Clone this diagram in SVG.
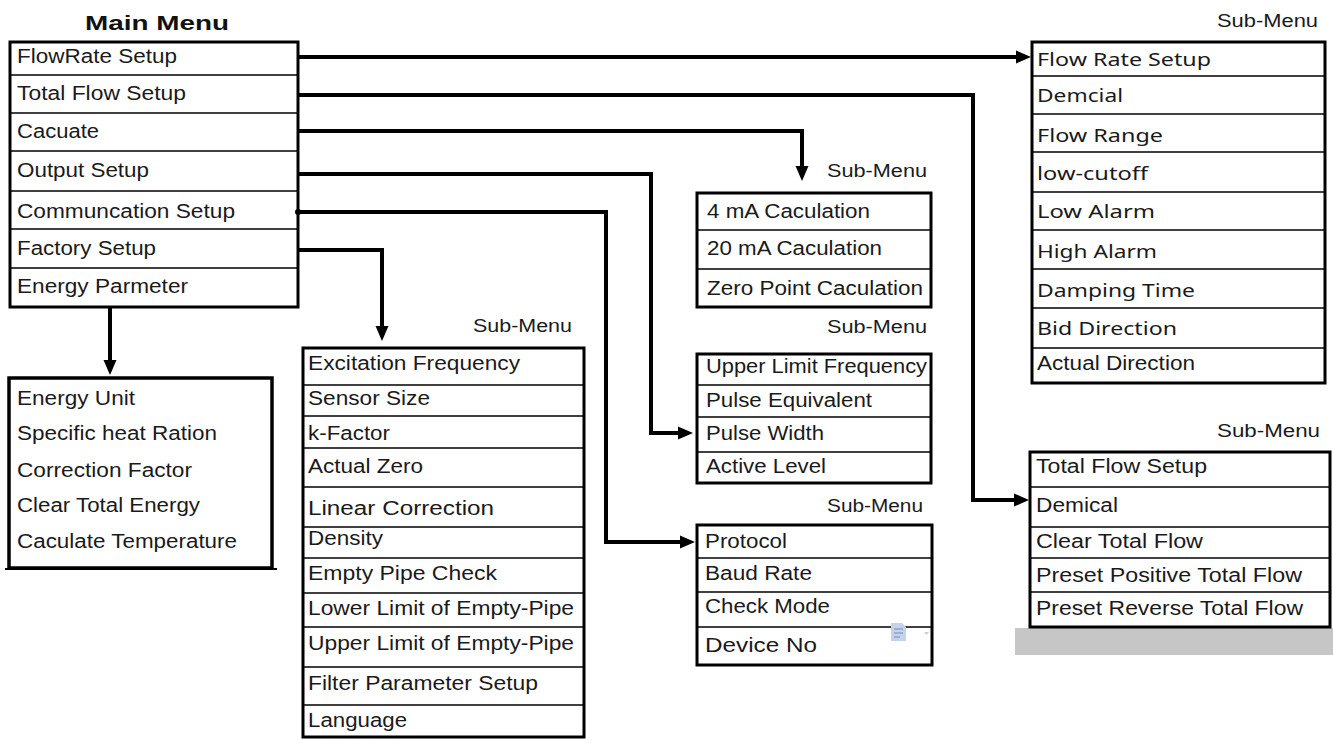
<svg xmlns="http://www.w3.org/2000/svg" width="1333" height="743" viewBox="0 0 1333 743">
<style>
.box{fill:#fff;stroke:#000;stroke-width:3}
.sep{stroke:#000;stroke-width:1.5}
.t{font-family:"Liberation Sans",Arial,sans-serif;font-size:20px;fill:#1a1a1a}
.n{font-family:"Noto Sans","Open Sans",sans-serif;font-size:18px;fill:#1a1a1a}
.sm{font-family:"Liberation Sans",Arial,sans-serif;font-size:18px;fill:#1a1a1a}
.title{font-family:"Liberation Sans",Arial,sans-serif;font-size:21px;font-weight:bold;fill:#111}
.c{fill:none;stroke:#000;stroke-width:4;stroke-linejoin:miter}
</style>
<defs>
<marker id="ah" viewBox="0 -7 15 14" markerWidth="15" markerHeight="14" refX="1" refY="0" orient="auto" markerUnits="userSpaceOnUse">
<path d="M0,-6.5 L15,0 L0,6.5 Z" fill="#000"/>
</marker>
</defs>
<rect width="1333" height="743" fill="#fff"/>

<g id="main-menu">
<text class="title" x="85" y="30" textLength="144" lengthAdjust="spacingAndGlyphs">Main Menu</text>
<rect class="box" x="10" y="42" width="288" height="265"/>
<line class="sep" x1="10" y1="75" x2="298" y2="75"/>
<line class="sep" x1="10" y1="113" x2="298" y2="113"/>
<line class="sep" x1="10" y1="151" x2="298" y2="151"/>
<line class="sep" x1="10" y1="191" x2="298" y2="191"/>
<line class="sep" x1="10" y1="229" x2="298" y2="229"/>
<line class="sep" x1="10" y1="268" x2="298" y2="268"/>
<text class="t" x="17" y="63" textLength="160" lengthAdjust="spacingAndGlyphs">FlowRate Setup</text>
<text class="t" x="17" y="100" textLength="169" lengthAdjust="spacingAndGlyphs">Total Flow Setup</text>
<text class="t" x="17" y="138" textLength="82" lengthAdjust="spacingAndGlyphs">Cacuate</text>
<text class="t" x="17" y="177" textLength="132" lengthAdjust="spacingAndGlyphs">Output Setup</text>
<text class="t" x="17" y="218" textLength="218" lengthAdjust="spacingAndGlyphs">Communcation Setup</text>
<text class="t" x="17" y="255" textLength="139" lengthAdjust="spacingAndGlyphs">Factory Setup</text>
<text class="t" x="17" y="293" textLength="171" lengthAdjust="spacingAndGlyphs">Energy Parmeter</text>
</g>

<g id="energy-submenu">
<rect class="box" x="9" y="378" width="263" height="190" style="stroke-width:3.5"/>
<line x1="5" y1="569" x2="277" y2="569" stroke="#000" stroke-width="2"/>
<text class="t" x="17" y="405" textLength="118" lengthAdjust="spacingAndGlyphs">Energy Unit</text>
<text class="t" x="17" y="440" textLength="200" lengthAdjust="spacingAndGlyphs">Specific heat Ration</text>
<text class="t" x="17" y="477" textLength="175" lengthAdjust="spacingAndGlyphs">Correction Factor</text>
<text class="t" x="17" y="512" textLength="183" lengthAdjust="spacingAndGlyphs">Clear Total Energy</text>
<text class="t" x="17" y="548" textLength="220" lengthAdjust="spacingAndGlyphs">Caculate Temperature</text>
</g>

<g id="factory-submenu">
<text class="sm" x="473" y="332" textLength="99" lengthAdjust="spacingAndGlyphs">Sub-Menu</text>
<rect class="box" x="303" y="348" width="281" height="389"/>
<line class="sep" x1="303" y1="385" x2="584" y2="385"/>
<line class="sep" x1="303" y1="416" x2="584" y2="416"/>
<line class="sep" x1="303" y1="448" x2="584" y2="448"/>
<line class="sep" x1="303" y1="487" x2="584" y2="487"/>
<line class="sep" x1="303" y1="527" x2="584" y2="527"/>
<line class="sep" x1="303" y1="558" x2="584" y2="558"/>
<line class="sep" x1="303" y1="593" x2="584" y2="593"/>
<line class="sep" x1="303" y1="627" x2="584" y2="627"/>
<line class="sep" x1="303" y1="667" x2="584" y2="667"/>
<line class="sep" x1="303" y1="705" x2="584" y2="705"/>
<text class="t" x="308" y="370" textLength="212" lengthAdjust="spacingAndGlyphs">Excitation Frequency</text>
<text class="t" x="308" y="405" textLength="122" lengthAdjust="spacingAndGlyphs">Sensor Size</text>
<text class="t" x="308" y="440" textLength="82" lengthAdjust="spacingAndGlyphs">k-Factor</text>
<text class="t" x="308" y="473" textLength="115" lengthAdjust="spacingAndGlyphs">Actual Zero</text>
<text class="t" x="308" y="515" textLength="186" lengthAdjust="spacingAndGlyphs">Linear Correction</text>
<text class="t" x="308" y="545" textLength="75" lengthAdjust="spacingAndGlyphs">Density</text>
<text class="t" x="308" y="580" textLength="189" lengthAdjust="spacingAndGlyphs">Empty Pipe Check</text>
<text class="t" x="308" y="615" textLength="266" lengthAdjust="spacingAndGlyphs">Lower Limit of Empty-Pipe</text>
<text class="t" x="308" y="650" textLength="266" lengthAdjust="spacingAndGlyphs">Upper Limit of Empty-Pipe</text>
<text class="t" x="308" y="690" textLength="230" lengthAdjust="spacingAndGlyphs">Filter Parameter Setup</text>
<text class="t" x="308" y="727" textLength="99" lengthAdjust="spacingAndGlyphs">Language</text>
</g>

<g id="calculation-submenu">
<text class="sm" x="827" y="177" textLength="100" lengthAdjust="spacingAndGlyphs">Sub-Menu</text>
<rect class="box" x="697" y="193" width="234" height="114"/>
<line class="sep" x1="697" y1="230" x2="931" y2="230"/>
<line class="sep" x1="697" y1="269" x2="931" y2="269"/>
<text class="t" x="707" y="218" textLength="163" lengthAdjust="spacingAndGlyphs">4 mA Caculation</text>
<text class="t" x="707" y="255" textLength="175" lengthAdjust="spacingAndGlyphs">20 mA Caculation</text>
<text class="t" x="707" y="295" textLength="216" lengthAdjust="spacingAndGlyphs">Zero Point Caculation</text>
</g>

<g id="output-submenu">
<text class="sm" x="827" y="333" textLength="100" lengthAdjust="spacingAndGlyphs">Sub-Menu</text>
<rect class="box" x="697" y="354" width="234" height="129"/>
<line class="sep" x1="697" y1="385" x2="931" y2="385"/>
<line class="sep" x1="697" y1="417" x2="931" y2="417"/>
<line class="sep" x1="697" y1="452" x2="931" y2="452"/>
<text class="t" x="706" y="373" textLength="221" lengthAdjust="spacingAndGlyphs">Upper Limit Frequency</text>
<text class="t" x="706" y="407" textLength="166" lengthAdjust="spacingAndGlyphs">Pulse Equivalent</text>
<text class="t" x="706" y="440" textLength="118" lengthAdjust="spacingAndGlyphs">Pulse Width</text>
<text class="t" x="706" y="473" textLength="120" lengthAdjust="spacingAndGlyphs">Active Level</text>
</g>

<g id="communication-submenu">
<text class="sm" x="827" y="512" textLength="96" lengthAdjust="spacingAndGlyphs">Sub-Menu</text>
<rect class="box" x="697" y="525" width="235" height="140"/>
<line class="sep" x1="697" y1="558" x2="932" y2="558"/>
<line class="sep" x1="697" y1="592" x2="932" y2="592"/>
<line class="sep" x1="697" y1="627" x2="932" y2="627"/>
<text class="t" x="705" y="548" textLength="82" lengthAdjust="spacingAndGlyphs">Protocol</text>
<text class="t" x="705" y="580" textLength="107" lengthAdjust="spacingAndGlyphs">Baud Rate</text>
<text class="t" x="705" y="613" textLength="125" lengthAdjust="spacingAndGlyphs">Check Mode</text>
<text class="t" x="705" y="652" textLength="112" lengthAdjust="spacingAndGlyphs">Device No</text>
<g>
<path d="M891,623 H902 L906,627 V641 H891 Z" fill="#c4d3ea"/>
<line x1="894" y1="629" x2="903" y2="629" stroke="#8ea5c8" stroke-width="1.5"/>
<line x1="894" y1="633" x2="903" y2="633" stroke="#8ea5c8" stroke-width="1.5"/>
<line x1="894" y1="637" x2="900" y2="637" stroke="#8ea5c8" stroke-width="1.5"/>
<path d="M924,632 L929,632 L926.5,635 Z" fill="#c8ccd4"/>
</g>
</g>

<g id="flowrate-submenu">
<text class="sm" x="1217" y="27" textLength="101" lengthAdjust="spacingAndGlyphs">Sub-Menu</text>
<rect class="box" x="1032" y="42" width="293" height="341"/>
<line class="sep" x1="1032" y1="76" x2="1325" y2="76"/>
<line class="sep" x1="1032" y1="114" x2="1325" y2="114"/>
<line class="sep" x1="1032" y1="152" x2="1325" y2="152"/>
<line class="sep" x1="1032" y1="192" x2="1325" y2="192"/>
<line class="sep" x1="1032" y1="230" x2="1325" y2="230"/>
<line class="sep" x1="1032" y1="269" x2="1325" y2="269"/>
<line class="sep" x1="1032" y1="308" x2="1325" y2="308"/>
<line class="sep" x1="1032" y1="348" x2="1325" y2="348"/>
<text class="n" x="1037" y="66" textLength="174" lengthAdjust="spacingAndGlyphs">Flow Rate Setup</text>
<text class="n" x="1037" y="102" textLength="86" lengthAdjust="spacingAndGlyphs">Demcial</text>
<text class="n" x="1037" y="142" textLength="126" lengthAdjust="spacingAndGlyphs">Flow Range</text>
<text class="n" x="1037" y="180" textLength="111" lengthAdjust="spacingAndGlyphs">low-cutoff</text>
<text class="n" x="1037" y="218" textLength="118" lengthAdjust="spacingAndGlyphs">Low  Alarm</text>
<text class="n" x="1037" y="258" textLength="120" lengthAdjust="spacingAndGlyphs">High Alarm</text>
<text class="n" x="1037" y="297" textLength="158" lengthAdjust="spacingAndGlyphs">Damping Time</text>
<text class="n" x="1037" y="335" textLength="140" lengthAdjust="spacingAndGlyphs">Bid Direction</text>
<text class="t" x="1037" y="370" textLength="158" lengthAdjust="spacingAndGlyphs">Actual Direction</text>
</g>

<g id="totalflow-submenu">
<rect x="1015" y="628" width="318" height="27" fill="#c6c6c6"/>
<text class="sm" x="1217" y="437" textLength="103" lengthAdjust="spacingAndGlyphs">Sub-Menu</text>
<rect class="box" x="1030" y="452" width="300" height="175"/>
<line class="sep" x1="1030" y1="487" x2="1330" y2="487"/>
<line class="sep" x1="1030" y1="527" x2="1330" y2="527"/>
<line class="sep" x1="1030" y1="558" x2="1330" y2="558"/>
<line class="sep" x1="1030" y1="592" x2="1330" y2="592"/>
<text class="t" x="1036" y="473" textLength="171" lengthAdjust="spacingAndGlyphs">Total Flow Setup</text>
<text class="t" x="1036" y="512" textLength="82" lengthAdjust="spacingAndGlyphs">Demical</text>
<text class="t" x="1036" y="548" textLength="167" lengthAdjust="spacingAndGlyphs">Clear Total Flow</text>
<text class="t" x="1036" y="582" textLength="266" lengthAdjust="spacingAndGlyphs">Preset Positive Total Flow</text>
<text class="t" x="1036" y="615" textLength="267" lengthAdjust="spacingAndGlyphs">Preset Reverse Total Flow</text>
</g>

<g id="connectors">
<path class="c" d="M298,57 H1017" marker-end="url(#ah)"/>
<path class="c" d="M298,95 H973 V500 H1015" marker-end="url(#ah)"/>
<path class="c" d="M298,131 H802 V167" marker-end="url(#ah)"/>
<path class="c" d="M298,174 H651 V433 H679" marker-end="url(#ah)"/>
<path class="c" d="M298,212 H606 V542 H681" marker-end="url(#ah)"/>
<circle cx="298" cy="212" r="3" fill="#000"/>
<path class="c" d="M298,250 H382 V327" marker-end="url(#ah)"/>
<path class="c" d="M110,307 V361" marker-end="url(#ah)"/>
</g>
</svg>
